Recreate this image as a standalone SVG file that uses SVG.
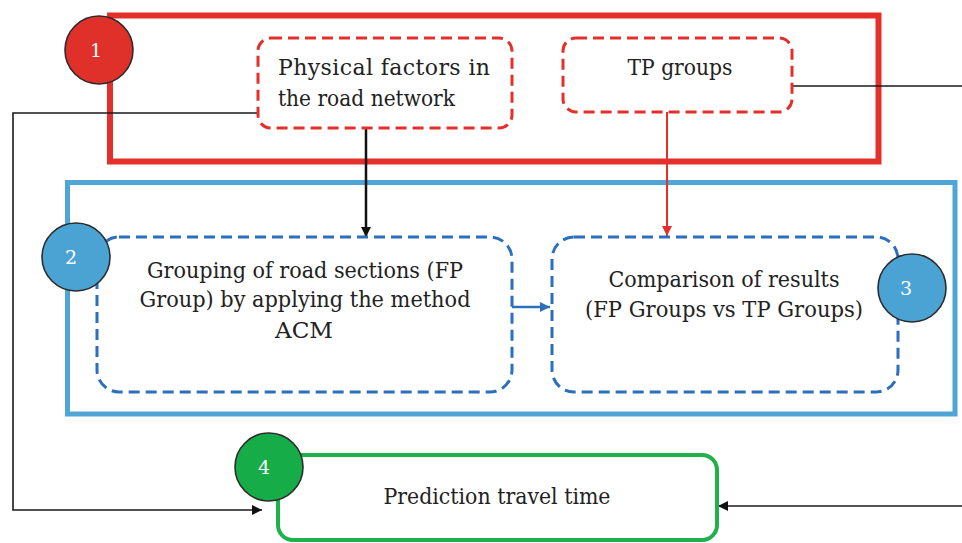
<svg xmlns="http://www.w3.org/2000/svg" width="962" height="543" viewBox="0 0 962 543">
<defs>
<style>
.txt{font-family:'DejaVu Serif',serif;font-size:22px;fill:#222}
.num{font-family:'DejaVu Serif',serif;font-size:19px;fill:#fff;text-anchor:middle}
.mid{text-anchor:middle}
.reddash{fill:#fff;stroke:#e3302a;stroke-width:3;stroke-dasharray:11 6}
.bluedash{fill:#fff;stroke:#2b6fbd;stroke-width:3;stroke-dasharray:11 6}
.circ{stroke:#2b2b2b;stroke-width:1.6}
.conn{fill:none;stroke:#1a1a1a;stroke-width:1.6}
</style>
<marker id="ab" viewBox="0 0 10 10" refX="10" refY="5" markerWidth="10" markerHeight="10" markerUnits="userSpaceOnUse" orient="auto"><path d="M0,0 L10,5 L0,10 Z" fill="#111"/></marker>
<marker id="ar" viewBox="0 0 10 10" refX="10" refY="5" markerWidth="10" markerHeight="10" markerUnits="userSpaceOnUse" orient="auto"><path d="M0,0 L10,5 L0,10 Z" fill="#e3302a"/></marker>
<marker id="abl" viewBox="0 0 10 10" refX="10" refY="5" markerWidth="10" markerHeight="10" markerUnits="userSpaceOnUse" orient="auto"><path d="M0,0 L10,5 L0,10 Z" fill="#2b6fbd"/></marker>
</defs>
<rect width="962" height="543" fill="#fff"/>

<g id="frame-red">
<rect x="110" y="15.5" width="768.5" height="146" fill="none" stroke="#e3302a" stroke-width="6"/>
</g>
<g id="frame-blue">
<rect x="67.5" y="182.5" width="887.5" height="231.5" fill="none" stroke="#4fa6d6" stroke-width="5"/>
</g>

<g id="connectors">
<path class="conn" d="M258,113 H13 V510 H262" marker-end="url(#ab)"/>
<path class="conn" d="M792,86 H962"/>
<path class="conn" d="M962,506 H718" marker-end="url(#ab)"/>
<path d="M366,118 V237" fill="none" stroke="#111" stroke-width="2.5" marker-end="url(#ab)"/>
<path d="M667,112 V236" fill="none" stroke="#e3302a" stroke-width="2" marker-end="url(#ar)"/>
<path d="M512,307 H550" fill="none" stroke="#2b6fbd" stroke-width="2.5" marker-end="url(#abl)"/>
</g>

<g id="node-physical">
<rect class="reddash" x="258" y="38" width="254" height="90" rx="13"/>
<text class="txt" x="278" y="75" textLength="212" lengthAdjust="spacing">Physical factors in</text>
<text class="txt" x="278" y="106" textLength="177" lengthAdjust="spacingAndGlyphs">the road network</text>
</g>

<g id="node-tp">
<rect class="reddash" x="563" y="38" width="229" height="74" rx="13"/>
<text class="txt mid" x="680" y="75" textLength="105" lengthAdjust="spacingAndGlyphs">TP groups</text>
</g>

<g id="node-grouping">
<rect class="bluedash" x="97" y="237" width="415" height="155" rx="22"/>
<text class="txt mid" x="305" y="278" textLength="316" lengthAdjust="spacingAndGlyphs">Grouping of road sections (FP</text>
<text class="txt mid" x="305" y="307" textLength="331" lengthAdjust="spacingAndGlyphs">Group) by applying the method</text>
<text class="txt mid" x="304" y="338" textLength="58" lengthAdjust="spacingAndGlyphs">ACM</text>
</g>

<g id="node-comparison">
<rect class="bluedash" x="552" y="237" width="346" height="155" rx="22"/>
<text class="txt mid" x="724" y="287" textLength="231" lengthAdjust="spacingAndGlyphs">Comparison of results</text>
<text class="txt mid" x="724" y="317" textLength="278" lengthAdjust="spacingAndGlyphs">(FP Groups vs TP Groups)</text>
</g>

<g id="node-prediction">
<rect x="278" y="455" width="439" height="85" rx="15" fill="#fff" stroke="#1fb14b" stroke-width="4"/>
<text class="txt mid" x="497" y="504" textLength="227" lengthAdjust="spacingAndGlyphs">Prediction travel time</text>
</g>

<g id="badge-1">
<circle class="circ" cx="99" cy="50" r="34" fill="#e0302a"/>
<text class="num" x="96" y="57">1</text>
</g>
<g id="badge-2">
<circle class="circ" cx="76" cy="257" r="34" fill="#4ba3d4"/>
<text class="num" x="71" y="264">2</text>
</g>
<g id="badge-3">
<circle class="circ" cx="912" cy="288" r="34" fill="#4ba3d4"/>
<text class="num" x="906" y="295">3</text>
</g>
<g id="badge-4">
<circle class="circ" cx="269" cy="467" r="34" fill="#16ac48"/>
<text class="num" x="264" y="474">4</text>
</g>
</svg>
